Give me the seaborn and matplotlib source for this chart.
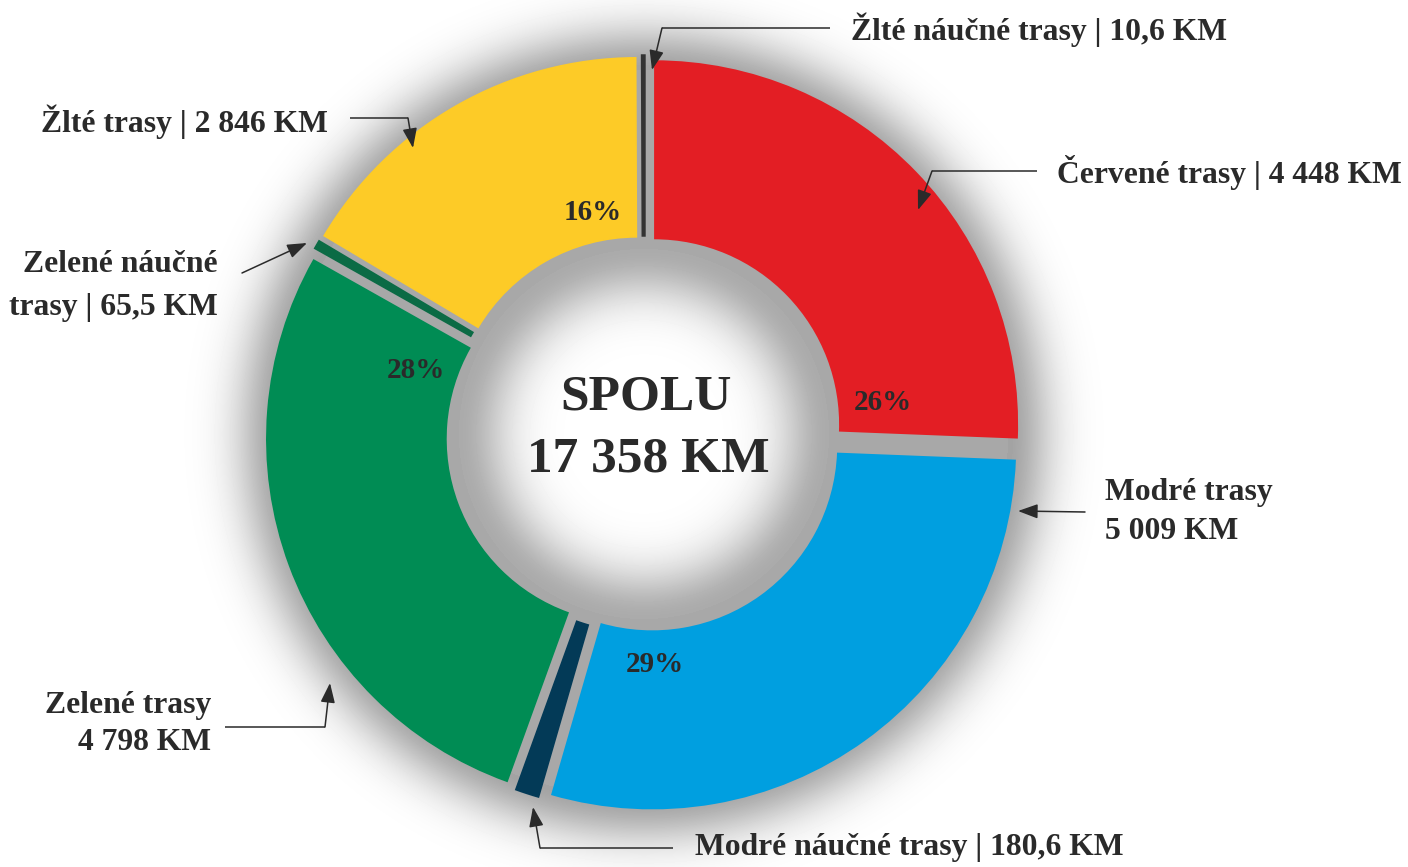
import numpy as np
import matplotlib
matplotlib.use('Agg')
import matplotlib.pyplot as plt
import seaborn as sns

# route lengths (km), clockwise from the top
names = ['Červené trasy', 'Modré trasy', 'Modré náučné trasy', 'Zelené trasy',
         'Zelené náučné trasy', 'Žlté trasy', 'Žlté náučné trasy']
values = [4448, 5009, 180.6, 4798, 65.5, 2846, 10.6]
colors = ['#E31E24', '#009FE0', '#033A57', '#008C54', '#0B6B45', '#FDCB27', '#333333']
label_layout = ['{n} | {v} KM', '{n}\n{v} KM', '{n} | {v} KM', '{n}\n{v} KM',
                'Zelené náučné\ntrasy | {v} KM', '{n} | {v} KM', '{n} | {v} KM']


def fmt_km(v):
    if float(v).is_integer() or v >= 1000:
        return f"{int(round(v)):,}".replace(',', ' ')
    return f"{v:.1f}".replace('.', ',')


W, H = 1408, 867
def fy(y):
    return H - y


sns.set_theme(style='white')
plt.rcParams['font.family'] = ['Liberation Serif', 'DejaVu Serif']
ink = '#2a2a2a'

fig = plt.figure(figsize=(W / 100, H / 100), dpi=100)
ax = fig.add_axes([0, 0, 1, 1])
ax.set_xlim(0, W)
ax.set_ylim(0, H)

cx, cy = 644, fy(434)
R, ring = 364, 179
r_in = R - ring
gap = 14

# soft shadow behind the ring and inside the hole
gx, gy = np.meshgrid(np.arange(W) + 0.5, np.arange(H) + 0.5)
rr = np.hypot(gx - cx, gy - cy)
shade = np.ones_like(rr)
outer = rr > R
shade[outer] = 1 - 0.36 * np.exp(-((rr[outer] - R) / 45) ** 2)
inner = rr < r_in
shade[inner] = 1 - 0.33 * np.exp(-((r_in - rr[inner]) / 50) ** 2)
band = ~outer & ~inner
shade[band] = 0.66
ax.imshow(shade, cmap='gray', vmin=0, vmax=1, origin='lower',
          extent=(0, W, 0, H), interpolation='bilinear', zorder=0)

wedges, _ = ax.pie(values, colors=colors, startangle=90, counterclock=False,
                   center=(cx, cy), radius=R, explode=[gap] * len(values),
                   wedgeprops=dict(width=ring, linewidth=0))
for w in wedges[2:]:
    w.set_edgecolor(w.get_facecolor())
    w.set_linewidth(1.2)
wedges[-1].set_linewidth(2.5)
ax.set_xlim(0, W)
ax.set_ylim(0, H)
ax.set_aspect('equal')
ax.axis('off')

total = sum(values)
ax.text(cx + 2, fy(398), 'SPOLU', ha='center', va='center', fontsize=37,
        fontweight='bold', color=ink, zorder=5)
ax.text(cx + 4, fy(460), f"{fmt_km(round(total))} KM", ha='center', va='center',
        fontsize=37, fontweight='bold', color=ink, zorder=5)

# percentages for the four main slices
pct_pos = {0: (883, 403), 1: (655, 665), 3: (416, 370), 5: (593, 213)}
for i, (px, py) in pct_pos.items():
    ax.text(px, fy(py), f"{round(values[i] / total * 100):.0f}%", ha='center',
            va='center', fontsize=21, fontweight='bold', color=ink, zorder=5)

# callouts: text anchor, alignment, line spacing, leader polyline ending at the arrow tip
callouts = [
    ((1057, 172), 'left', 1.2, [(1037, 171), (932, 171), (918, 210)]),
    ((1105, 512), 'left', 1.42, [(1085, 512), (1018, 511)]),
    ((695, 848), 'left', 1.2, [(673, 848), (540, 848), (533, 807)]),
    ((211, 724), 'right', 1.38, [(225, 727), (325, 727), (330, 683)]),
    ((218, 286), 'right', 1.6, [(242, 273), (307, 243)]),
    ((328, 122), 'right', 1.2, [(350, 118), (408, 118), (413, 148)]),
    ((851, 30), 'left', 1.2, [(830, 28), (662, 28), (652, 70)]),
]
for i, ((tx, ty), ha, ls, path) in enumerate(callouts):
    text = label_layout[i].format(n=names[i], v=fmt_km(values[i]))
    ax.text(tx, fy(ty), text, ha=ha, va='center', multialignment=ha,
            linespacing=ls, fontsize=22.8, fontweight='bold', color=ink, zorder=5)
    xs = [p[0] for p in path[:-1]]
    ys = [fy(p[1]) for p in path[:-1]]
    if len(xs) > 1:
        ax.plot(xs, ys, color=ink, lw=1.1, solid_capstyle='butt', zorder=5)
    ax.annotate('', xy=(path[-1][0], fy(path[-1][1])), xytext=(xs[-1], ys[-1]),
                arrowprops=dict(arrowstyle='-|>,head_length=0.6,head_width=0.22',
                                color=ink, lw=1.1, mutation_scale=20,
                                shrinkA=0, shrinkB=0),
                zorder=6)

fig.savefig('out.png', dpi=100)
